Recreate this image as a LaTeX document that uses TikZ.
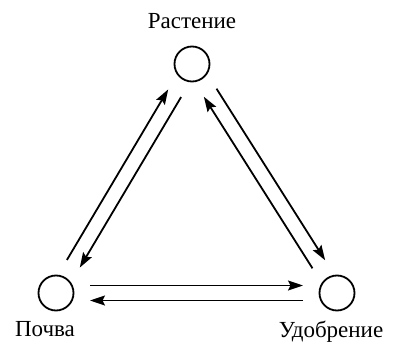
\documentclass[tikz,border=0pt]{standalone}
\usepackage{fontspec}
\setmainfont{Liberation Serif}
\newfontfamily\labelfont{Liberation Serif}
\usepackage{tikz}
\usetikzlibrary{arrows.meta, positioning, calc}
\tikzset{
    place/.style={circle, draw, line width=1.8pt, minimum size=35pt, inner sep=0pt},
    lbl/.style={inner sep=0pt, font=\labelfont\fontsize{23}{27}\selectfont},
    arrow/.style={line width=1.8pt, -{Stealth[length=15pt, width=10pt, inset=2.5pt]}}
}
\begin{document}
\begin{tikzpicture}[x=1pt, y=1pt]
        \useasboundingbox (0,0) rectangle (394,341);
        \node (R) [place] at (192,277) {};
        \node (P) [place] at (56,48) {};
        \node (U) [place] at (337,48) {};

        % Labels
        \node (R_label) [lbl, anchor=south, above=17pt of R] {Растение};
        \node (P_label) [lbl, below=10pt of P, xshift=-11pt] {Почва};
        \node (U_label) [lbl, below=9pt of U, xshift=-6pt] {Удобрение};

        % Arrows
        \draw [arrow] ($(P)!34pt!(R)!7.5pt!90:(R)$) -- ($(R)!34pt!(P)!7.5pt!-90:(P)$);
        \draw [arrow] ($(R)!34pt!(P)!7.5pt!90:(P)$) -- ($(P)!34pt!(R)!7.5pt!-90:(R)$);
        \draw [arrow] ($(R)!34pt!(U)!7.5pt!90:(U)$) -- ($(U)!34pt!(R)!7.5pt!-90:(R)$);
        \draw [arrow] ($(U)!34pt!(R)!7.5pt!90:(R)$) -- ($(R)!34pt!(U)!7.5pt!-90:(U)$);
        \draw [arrow] ($(P)!34pt!(U)!7.5pt!90:(U)$) -- ($(U)!34pt!(P)!7.5pt!-90:(P)$);
        \draw [arrow] ($(U)!34pt!(P)!7.5pt!90:(P)$) -- ($(P)!34pt!(U)!7.5pt!-90:(U)$);
    \end{tikzpicture}
\end{document}
